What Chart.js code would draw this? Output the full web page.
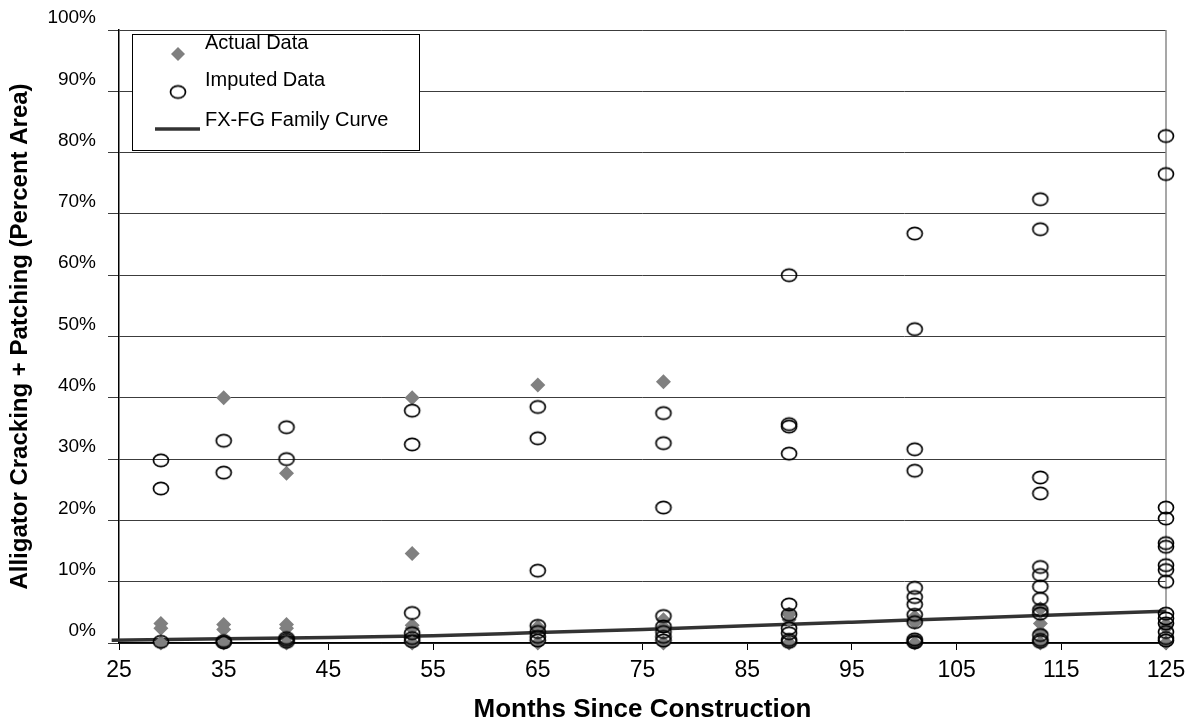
<!DOCTYPE html>
<html>
<head>
<meta charset="utf-8">
<title>Alligator Cracking + Patching vs Months Since Construction</title>
<script src="https://cdn.jsdelivr.net/npm/chart.js@4.4.1/dist/chart.umd.min.js"></script>
<style>
  html, body { margin: 0; padding: 0; background: #fff; }
  #wrap { position: relative; width: 1198px; height: 726px; }
</style>
</head>
<body>
<div id="wrap"><canvas id="chart"></canvas></div>
<script>
"use strict";

// ── Data ───────────────────────────────────────────────────────────────────
const monthTicks   = [25, 35, 45, 55, 65, 75, 85, 95, 105, 115, 125];
const percentTicks = [0, 10, 20, 30, 40, 50, 60, 70, 80, 90, 100];

// survey ages (months) — one group of readings per age
const ageMonths = [29, 35, 41, 53, 65, 77, 89, 101, 113, 125];

// measured sections (% area)
const actualPct = [
  [3.2, 2.4, 0],
  [40.0, 3.0, 2.2, 0],
  [27.7, 3.0, 2.4, 0],
  [40.0, 14.6, 2.9, 2.4, 0],
  [42.1, 2.6, 0],
  [42.6, 3.8, 2.6, 0],
  [4.7, 3.8, 0],
  [4.3, 3.4, 0],
  [5.6, 3.2, 1.8, 0],
  [3.0, 2.5, 0],
];

// imputed sections (% area)
const imputedPct = [
  [29.8, 25.2, 0.2],
  [33.0, 27.8, 0.3, 0.1],
  [35.2, 30.0, 0.8, 0.5, 0.2],
  [37.9, 32.4, 4.9, 1.6, 0.8, 0.3],
  [38.5, 33.4, 11.8, 2.8, 1.8, 1.0, 0.4],
  [37.5, 32.6, 22.1, 4.4, 2.7, 1.8, 1.0, 0.4],
  [60.0, 35.7, 35.3, 30.9, 6.3, 4.6, 2.4, 1.6, 0.5, 0.2],
  [66.8, 51.2, 31.6, 28.1, 9.0, 7.5, 6.3, 4.6, 3.4, 0.6, 0.3, 0.1],
  [72.4, 67.5, 27.0, 24.4, 12.4, 11.1, 9.2, 7.2, 5.4, 4.8, 1.3, 0.5, 0.2],
  [82.7, 76.5, 22.1, 20.3, 16.3, 15.7, 12.7, 11.9, 10.0, 4.8, 4.0, 3.2, 1.8, 0.8, 0.4],
];

// FX-FG family performance curve
const curveMonths = [24.3, 35, 45, 55, 65, 75, 85, 95, 105, 115, 125];
const curvePct    = [0.45, 0.7, 0.9, 1.2, 1.7, 2.2, 2.8, 3.4, 4.0, 4.6, 5.2];

const legendLabels = ["Actual Data", "Imputed Data", "FX-FG Family Curve"];

// ── Helpers ────────────────────────────────────────────────────────────────
const toPoints = (groups) =>
  ageMonths.flatMap((m, i) => groups[i].map((v) => ({ x: m, y: v })));

// open ellipse marker (slightly wider than tall)
function ellipseMarker() {
  const c = document.createElement("canvas");
  c.width = 20;
  c.height = 17;
  const g = c.getContext("2d");
  g.strokeStyle = "#000";
  g.lineWidth = 1.7;
  g.beginPath();
  g.ellipse(10, 8.5, 7.5, 6.2, 0, 0, Math.PI * 2);
  g.stroke();
  return c;
}
const ringImg = ellipseMarker();

const FONT = "'Liberation Sans', Arial, Helvetica, sans-serif";
const DIAMOND = "#808080";

// ── Plugins ────────────────────────────────────────────────────────────────
const frameRight = {
  id: "frameRight",
  beforeDatasetsDraw(chart) {
    const { ctx, chartArea: a } = chart;
    ctx.save();
    ctx.strokeStyle = "#8a8a8a";
    ctx.lineWidth = 1.5;
    ctx.beginPath();
    ctx.moveTo(a.right, a.top);
    ctx.lineTo(a.right, a.bottom);
    ctx.stroke();
    ctx.restore();
  },
};

const boxLegend = {
  id: "boxLegend",
  afterDraw(chart) {
    const ctx = chart.ctx;
    ctx.save();
    ctx.fillStyle = "#fff";
    ctx.fillRect(132, 34, 287, 116);
    ctx.strokeStyle = "#000";
    ctx.lineWidth = 1;
    ctx.strokeRect(132.5, 34.5, 287, 116);

    // diamond
    ctx.fillStyle = DIAMOND;
    ctx.beginPath();
    ctx.moveTo(178 - 7, 54);
    ctx.lineTo(178, 54 - 7);
    ctx.lineTo(178 + 7, 54);
    ctx.lineTo(178, 54 + 7);
    ctx.closePath();
    ctx.fill();

    // ring
    ctx.drawImage(ringImg, 178 - ringImg.width / 2, 92 - ringImg.height / 2);

    // curve
    ctx.strokeStyle = "#333";
    ctx.lineWidth = 3.5;
    ctx.beginPath();
    ctx.moveTo(155, 129);
    ctx.lineTo(200, 129);
    ctx.stroke();

    ctx.fillStyle = "#000";
    ctx.font = "20px " + FONT;
    ctx.textBaseline = "alphabetic";
    ctx.textAlign = "left";
    ctx.fillText(legendLabels[0], 205, 49);
    ctx.fillText(legendLabels[1], 205, 86);
    ctx.fillText(legendLabels[2], 205, 126);
    ctx.restore();
  },
};

// ── Chart ──────────────────────────────────────────────────────────────────
new Chart(document.getElementById("chart"), {
  type: "scatter",
  data: {
    datasets: [
      {
        label: legendLabels[1],
        data: toPoints(imputedPct),
        pointStyle: ringImg,
        pointRadius: 7,
        order: 0,
        clip: false,
      },
      {
        label: legendLabels[0],
        data: toPoints(actualPct),
        pointStyle: "rectRot",
        pointRadius: 7.5,
        pointBorderWidth: 0,
        backgroundColor: DIAMOND,
        borderColor: DIAMOND,
        order: 1,
        clip: false,
      },
      {
        label: legendLabels[2],
        data: curveMonths.map((m, i) => ({ x: m, y: curvePct[i] })),
        showLine: true,
        borderColor: "#333",
        borderWidth: 3.5,
        pointRadius: 0,
        cubicInterpolationMode: "monotone",
        order: 2,
        clip: false,
      },
    ],
  },
  options: {
    responsive: true,
    maintainAspectRatio: false,
    animation: false,
    events: [],
    layout: { padding: { top: 30, right: 32, left: 0, bottom: 0 } },
    plugins: {
      legend: { display: false },
      tooltip: { enabled: false },
    },
    scales: {
      x: {
        type: "linear",
        min: 25,
        max: 125,
        afterBuildTicks: (s) => { s.ticks = monthTicks.map((v) => ({ value: v })); },
        afterFit: (s) => { s.height = 83; },
        border: { color: "#000", width: 1.5 },
        grid: { drawOnChartArea: false, drawTicks: true, tickLength: 7, color: "#000", tickColor: "#000" },
        ticks: { color: "#000", padding: 7, font: { family: FONT, size: 23 }, maxRotation: 0 },
        title: {
          display: true,
          text: "Months Since Construction",
          color: "#000",
          font: { family: FONT, size: 26, weight: "bold", lineHeight: 1.2 },
          padding: { top: 0, bottom: 1 },
        },
      },
      y: {
        type: "linear",
        min: 0,
        max: 100,
        afterBuildTicks: (s) => { s.ticks = percentTicks.map((v) => ({ value: v })); },
        afterFit: (s) => { s.width = 119; },
        border: { color: "#000", width: 1.5 },
        grid: { color: "#3c3c3c", lineWidth: 1, tickLength: 11, tickColor: "#3c3c3c" },
        ticks: {
          color: "#000",
          padding: 12,
          labelOffset: -12,
          font: { family: FONT, size: 19 },
          callback: (v) => v + "%",
        },
        title: {
          display: true,
          text: "Alligator Cracking + Patching (Percent Area)",
          color: "#000",
          font: { family: FONT, size: 24, weight: "bold", lineHeight: 1.2 },
          padding: { top: 6, bottom: 0 },
        },
      },
    },
  },
  plugins: [frameRight, boxLegend],
});
</script>
</body>
</html>
